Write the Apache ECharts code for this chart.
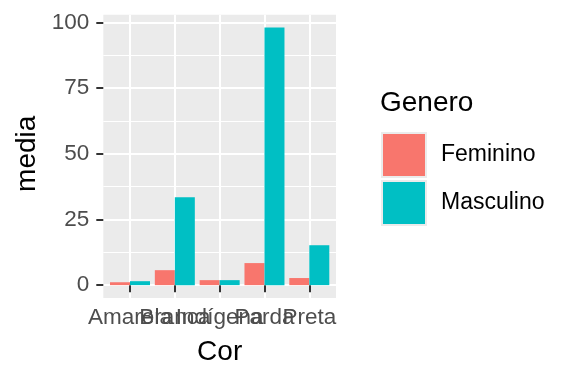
<!DOCTYPE html>
<html>
<head>
<meta charset="utf-8">
<script src="https://cdn.jsdelivr.net/npm/echarts@6/dist/echarts.min.js"></script>
<style>html,body{margin:0;padding:0;background:#fff;}#c{width:576px;height:384px;}</style>
</head>
<body>
<div id="c"></div>
<script>
const categories = ['Amarela', 'Branca', 'Indígena', 'Parda', 'Preta'];
const feminino = [1.1, 5.7, 1.9, 8.4, 2.7];
const masculino = [1.5, 33.5, 1.9, 98.1, 15.2];
const yTicks = [0, 25, 50, 75, 100];

const FONT = 'Liberation Sans, Arial, sans-serif';
const chart = echarts.init(document.getElementById('c'), null, {renderer: 'canvas'});
const option = {
  animation: false,
  textStyle: {fontFamily: FONT},
  title: {
    text: 'Genero', left: 380, top: 89, padding: 0,
    textStyle: {fontFamily: FONT, fontSize: 28, fontWeight: 'normal', color: '#000'}
  },
  legend: {
    orient: 'vertical', left: 381, top: 132, padding: 0, itemGap: 2,
    itemWidth: 44, itemHeight: 44, icon: 'rect',
    itemStyle: {borderColor: '#EBEBEB', borderWidth: 2},
    textStyle: {fontFamily: FONT, fontSize: 23, color: '#000', padding: [0, 0, 0, 10]},
    data: ['Feminino', 'Masculino']
  },
  grid: [
    {left: 103.3, top: 14.7, width: 232.7, height: 283.3, show: true, backgroundColor: '#EBEBEB', borderWidth: 0},
    {left: 103.3, top: 22.3, width: 232.7, height: 262.9, show: false},
    {left: 130, top: 14.7, width: 179.3, height: 283.3, show: false}
  ],
  xAxis: [
    {gridIndex: 0, type: 'value', show: false},
    {gridIndex: 1, type: 'value', show: false, min: 0, max: 1},
    {gridIndex: 2, type: 'category', data: categories, boundaryGap: false,
     axisLine: {show: false},
     axisTick: {show: true, length: 7, lineStyle: {color: '#333333', width: 2}},
     axisLabel: {interval: 0, hideOverlap: false, margin: 8, fontSize: 22.5, color: '#4D4D4D', fontFamily: FONT},
     splitLine: {show: true, lineStyle: {color: '#FFFFFF', width: 2}},
     name: 'Cor', nameLocation: 'middle', nameGap: 40,
     nameTextStyle: {fontSize: 28, color: '#000', fontFamily: FONT}}
  ],
  yAxis: [
    {gridIndex: 0, type: 'value', show: false},
    {gridIndex: 1, type: 'value', min: 0, max: 100, interval: 25,
     axisLine: {show: false},
     axisTick: {show: true, length: 7, lineStyle: {color: '#333333', width: 2}},
     axisLabel: {margin: 14, fontSize: 22.5, color: '#4D4D4D', fontFamily: FONT,
                 formatter: v => yTicks.includes(v) ? String(v) : ''},
     splitLine: {show: true, lineStyle: {color: '#FFFFFF', width: 2}},
     minorTick: {show: false, splitNumber: 2},
     minorSplitLine: {show: true, lineStyle: {color: '#FFFFFF', width: 1}},
     name: 'media', nameLocation: 'middle', nameGap: 62, nameRotate: 90,
     nameTextStyle: {fontSize: 28, color: '#000', fontFamily: FONT}},
    {gridIndex: 2, type: 'value', min: -4.9, max: 103, show: false}
  ],
  series: [
    {name: 'Feminino', type: 'bar', xAxisIndex: 2, yAxisIndex: 2, data: feminino,
     barWidth: 20, barGap: '0%', clip: false, itemStyle: {color: '#F8766D'}},
    {name: 'Masculino', type: 'bar', xAxisIndex: 2, yAxisIndex: 2, data: masculino,
     barWidth: 20, barGap: '0%', clip: false, itemStyle: {color: '#00BFC4'}}
  ]
};
chart.setOption(option);
</script>
</body>
</html>
